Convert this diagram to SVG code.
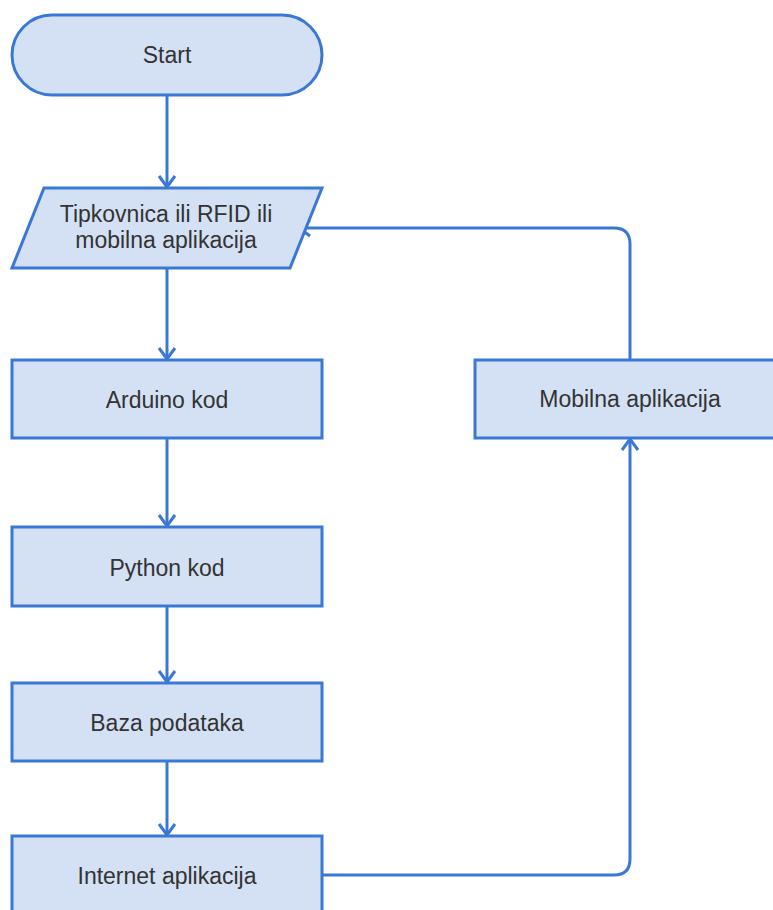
<svg xmlns="http://www.w3.org/2000/svg" width="773" height="910" viewBox="0 0 773 910">
<style>
.n{fill:#d4e1f5;stroke:#3a78d6;stroke-width:3}
.c{fill:none;stroke:#3a78d6;stroke-width:3}
text{font-family:"Liberation Sans",Arial,sans-serif;font-size:23px;fill:#333;text-anchor:middle}
</style>
<defs>
<marker id="a" markerUnits="userSpaceOnUse" markerWidth="24" markerHeight="24" viewBox="0 0 24 24" refX="14" refY="12" orient="auto">
<path d="M3 4 L14 12 L3 20" fill="none" stroke="#3a78d6" stroke-width="3"/>
</marker>
</defs>
<rect width="773" height="910" fill="#fff"/>
<g id="connectors">
<path class="c" d="M167 95 V187" marker-end="url(#a)"/>
<path class="c" d="M167 268 V359" marker-end="url(#a)"/>
<path class="c" d="M167 438 V526" marker-end="url(#a)"/>
<path class="c" d="M167 606 V682" marker-end="url(#a)"/>
<path class="c" d="M167 761 V835" marker-end="url(#a)"/>
<path class="c" d="M322 875 H614 Q630 875 630 859 V439" marker-end="url(#a)"/>
<path class="c" d="M630 360 V244 Q630 228 614 228 H299" marker-end="url(#a)"/>
</g>
<g id="start">
<rect class="n" x="12" y="15" width="310" height="80" rx="40" ry="40"/>
<text x="167" y="63">Start</text>
</g>
<g id="input">
<path class="n" d="M44 188 H322 L290 268 H12 Z"/>
<text x="166" y="222">Tipkovnica ili RFID ili</text>
<text x="166" y="248">mobilna aplikacija</text>
</g>
<g id="arduino">
<rect class="n" x="12" y="360" width="310" height="78"/>
<text x="167" y="408">Arduino kod</text>
</g>
<g id="python">
<rect class="n" x="12" y="527" width="310" height="79"/>
<text x="167" y="576">Python kod</text>
</g>
<g id="baza">
<rect class="n" x="12" y="683" width="310" height="78"/>
<text x="167" y="731">Baza podataka</text>
</g>
<g id="internet">
<rect class="n" x="12" y="836" width="310" height="80"/>
<text x="167" y="884">Internet aplikacija</text>
</g>
<g id="mobilna">
<rect class="n" x="475" y="360" width="310" height="78"/>
<text x="630" y="407">Mobilna aplikacija</text>
</g>
</svg>
